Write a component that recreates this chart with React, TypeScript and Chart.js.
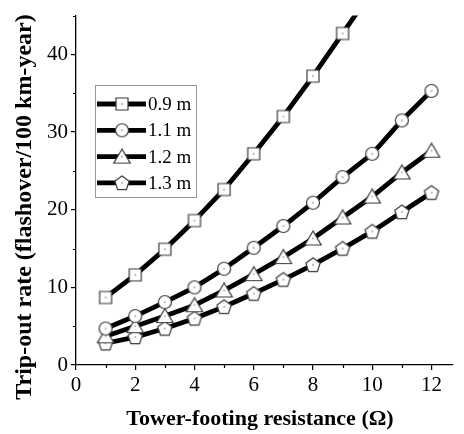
import React, { useEffect, useRef } from 'react';
import { Chart, registerables } from 'chart.js';

Chart.register(...registerables);

const resistance = [1, 2, 3, 4, 5, 6, 7, 8, 9, 10, 11, 12];
const rate09 = [8.7, 11.6, 14.9, 18.6, 22.6, 27.2, 32.0, 37.2, 42.7, 48.2];
const rate11 = [4.7, 6.3, 8.1, 10.0, 12.4, 15.1, 17.9, 20.9, 24.2, 27.2, 31.5, 35.3];
const rate12 = [3.7, 5.0, 6.3, 7.7, 9.6, 11.7, 13.9, 16.3, 19.0, 21.7, 24.8, 27.6];
const rate13 = [2.8, 3.6, 4.7, 6.0, 7.5, 9.2, 11.0, 12.9, 15.0, 17.2, 19.7, 22.2];
const seriesLabels = ['0.9 m', '1.1 m', '1.2 m', '1.3 m'];
const markerShapes = ['square', 'circle', 'triangle', 'pentagon'];
const xTicks = [0, 2, 4, 6, 8, 10, 12];
const xMinorTicks = [1, 3, 5, 7, 9, 11];
const yTicks = [0, 10, 20, 30, 40];
const yMinorTicks = [5, 15, 25, 35, 45];
const xTitle = 'Tower-footing resistance (\u03A9)';
const yTitle = 'Trip-out rate (flashover/100 km-year)';

function makeMarker(shape: string): HTMLCanvasElement {
  const c = document.createElement('canvas');
  c.width = 20;
  c.height = 20;
  const g = c.getContext('2d')!;
  g.fillStyle = '#ffffff';
  g.strokeStyle = '#3a3a3a';
  g.lineWidth = 1.2;
  g.beginPath();
  if (shape === 'square') {
    g.rect(4, 4, 12, 12);
  } else if (shape === 'circle') {
    g.arc(10, 10, 6.5, 0, Math.PI * 2);
  } else if (shape === 'triangle') {
    g.moveTo(10, 2.5);
    g.lineTo(1.8, 16.5);
    g.lineTo(18.2, 16.5);
    g.closePath();
  } else {
    for (let k = 0; k < 5; k++) {
      const a = -Math.PI / 2 + (k * 2 * Math.PI) / 5;
      const px = 10 + 7.5 * Math.cos(a);
      const py = 10.5 + 7.5 * Math.sin(a);
      if (k === 0) g.moveTo(px, py);
      else g.lineTo(px, py);
    }
    g.closePath();
  }
  g.fill();
  g.stroke();
  g.fillStyle = '#555';
  g.fillRect(9.4, 9.4, 1.2, 1.2);
  return c;
}

export default function App() {
  const ref = useRef<HTMLCanvasElement | null>(null);

  useEffect(() => {
    const canvas = ref.current;
    if (!canvas) return;
    const markers = markerShapes.map(makeMarker);
    const allRates = [rate09, rate11, rate12, rate13];

    const decor = {
      id: 'decor',
      afterDraw(chart: any) {
        const ctx = chart.ctx;
        const xs = chart.scales.x;
        const ys = chart.scales.y;
        ctx.save();
        // minor ticks
        ctx.strokeStyle = '#000';
        ctx.lineWidth = 1.2;
        ctx.beginPath();
        xMinorTicks.forEach((v) => {
          const px = Math.round(xs.getPixelForValue(v)) + 0.5;
          ctx.moveTo(px, ys.bottom);
          ctx.lineTo(px, ys.bottom + 3);
        });
        yMinorTicks.forEach((v) => {
          const py = Math.round(ys.getPixelForValue(v)) + 0.5;
          ctx.moveTo(xs.left, py);
          ctx.lineTo(xs.left - 3, py);
        });
        ctx.stroke();

        // legend
        const bx = 95.5, by = 85.5, bw = 101, bh = 112;
        ctx.fillStyle = '#fff';
        ctx.fillRect(bx, by, bw, bh);
        ctx.strokeStyle = '#999';
        ctx.lineWidth = 1;
        ctx.strokeRect(bx, by, bw, bh);
        seriesLabels.forEach((lab, i) => {
          const y = 104 + i * 26.3;
          ctx.strokeStyle = '#000';
          ctx.lineWidth = 4.8;
          ctx.beginPath();
          ctx.moveTo(97, y);
          ctx.lineTo(146, y);
          ctx.stroke();
          const m = markers[i];
          ctx.drawImage(m, 122 - m.width / 2, y - m.height / 2);
          ctx.fillStyle = '#000';
          ctx.font = '19px "Liberation Serif"';
          ctx.textAlign = 'left';
          ctx.textBaseline = 'middle';
          ctx.fillText(lab, 148, y + 1);
        });

        // axis titles
        ctx.fillStyle = '#000';
        ctx.font = 'bold 22px "Liberation Serif"';
        ctx.textAlign = 'center';
        ctx.textBaseline = 'middle';
        ctx.fillText(xTitle, 260, 419);
        ctx.translate(25, 207);
        ctx.rotate(-Math.PI / 2);
        ctx.font = 'bold 24px "Liberation Serif"';
        ctx.fillText(yTitle, 0, 0);
        ctx.restore();
      },
    };

    const chart = new Chart(canvas, {
      type: 'line',
      data: {
        datasets: allRates.map((arr, i) => ({
          label: seriesLabels[i],
          data: arr.map((v, j) => ({ x: resistance[j], y: v })),
          borderColor: '#000',
          borderWidth: 4.8,
          pointStyle: markers[i] as any,
          pointRadius: 7,
          pointHoverRadius: 7,
          tension: 0,
          fill: false,
        })),
      },
      options: {
        responsive: false,
        animation: false,
        events: [],
        layout: { padding: { top: 15, right: 4, left: 0, bottom: 0 } },
        plugins: { legend: { display: false }, tooltip: { enabled: false }, title: { display: false } },
        scales: {
          x: {
            type: 'linear',
            min: 0,
            max: 12.7,
            afterBuildTicks: (s: any) => {
              s.ticks = xTicks.map((v) => ({ value: v }));
            },
            afterFit: (s: any) => {
              s.height = 69;
            },
            grid: { display: true, drawOnChartArea: false, drawTicks: true, tickLength: 5, color: '#000', tickColor: '#000', lineWidth: 1.2 },
            border: { display: true, color: '#000', width: 1.3 },
            ticks: { font: { family: 'Liberation Serif', size: 21 }, color: '#000', padding: 3, maxRotation: 0, autoSkip: false },
          },
          y: {
            type: 'linear',
            min: 0,
            max: 45,
            afterBuildTicks: (s: any) => {
              s.ticks = yTicks.map((v) => ({ value: v }));
            },
            afterFit: (s: any) => {
              s.width = 76;
            },
            grid: { display: true, drawOnChartArea: false, drawTicks: true, tickLength: 5, color: '#000', tickColor: '#000', lineWidth: 1.2 },
            border: { display: true, color: '#000', width: 1.3 },
            ticks: { font: { family: 'Liberation Serif', size: 21 }, color: '#000', padding: 3, autoSkip: false },
          },
        },
      },
      plugins: [decor],
    });
    return () => chart.destroy();
  }, []);

  return (
    <div style={{ position: 'absolute', left: 0, top: 0, width: 464, height: 434, background: '#fff' }}>
      <canvas ref={ref} width={464} height={434} style={{ width: 464, height: 434, display: 'block' }} />
    </div>
  );
}
